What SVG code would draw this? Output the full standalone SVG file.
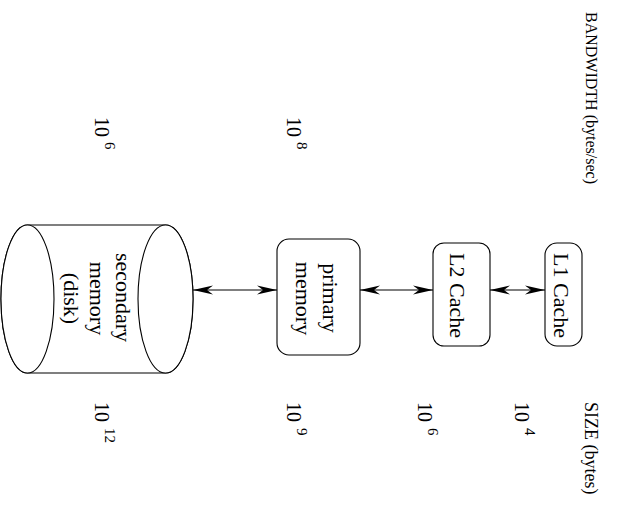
<svg xmlns="http://www.w3.org/2000/svg" width="644" height="517" viewBox="0 0 644 517">
<style>
text { font-family: "Liberation Serif", "Times New Roman", serif; fill: #000; }
.lbl { font-size: 22px; text-anchor: middle; }
.hdr { font-size: 16px; }
.hdr2 { font-size: 18px; }
.num { font-size: 20px; }
.sup { font-size: 15px; }
.shape { fill: #fff; stroke: #000; stroke-width: 1.1; }
.conn { stroke: #000; stroke-width: 1.1; fill: none; marker-start: url(#ah); marker-end: url(#ah); }
</style>
<defs>
<marker id="ah" viewBox="0 0 20 10" refX="20" refY="5" markerWidth="20" markerHeight="10" markerUnits="userSpaceOnUse" orient="auto-start-reverse">
<path d="M20,5 L0,0.5 L6,5 L0,9.5 Z" fill="#000"/>
</marker>
</defs>
<rect width="644" height="517" fill="#fff"/>

<g id="connectors">
<line class="conn" x1="193" y1="290" x2="277" y2="290"/>
<line class="conn" x1="360" y1="290" x2="433" y2="290"/>
<line class="conn" x1="490" y1="290" x2="545" y2="290"/>
</g>

<g id="node-disk">
<path class="shape" d="M27.5,225 L165.5,225 A27.5,74 0 0 1 165.5,373 L27.5,373 A26.5,74 0 0 1 27.5,225 Z"/>
<ellipse class="shape" cx="27.5" cy="299" rx="26.5" ry="74" fill="none"/>
<ellipse class="shape" cx="165.5" cy="299" rx="27.5" ry="74"/>
<text class="lbl" transform="translate(116,297.5) rotate(90)">secondary</text>
<text class="lbl" transform="translate(90,298.5) rotate(90)">memory</text>
<text class="lbl" transform="translate(64,298.5) rotate(90)">(disk)</text>
</g>

<g id="node-primary">
<rect class="shape" x="277" y="239" width="83" height="116" rx="12" ry="12"/>
<text class="lbl" transform="translate(323,298) rotate(90)">primary</text>
<text class="lbl" transform="translate(296,298.5) rotate(90)">memory</text>
</g>

<g id="node-l2">
<rect class="shape" x="433" y="243" width="57" height="103" rx="11" ry="11"/>
<text class="lbl" transform="translate(450,295.5) rotate(90)">L2 Cache</text>
</g>

<g id="node-l1">
<rect class="shape" x="545" y="243" width="37" height="103" rx="12" ry="12"/>
<text class="lbl" transform="translate(554,295.5) rotate(90)">L1 Cache</text>
</g>

<g id="bandwidth-labels">
<text class="hdr" transform="translate(586,12) rotate(90)">BANDWIDTH (bytes/sec)</text>
<text class="num" transform="translate(95,117) rotate(90)">10</text>
<text class="sup" transform="translate(105,142) rotate(90)">6</text>
<text class="num" transform="translate(287,117) rotate(90)">10</text>
<text class="sup" transform="translate(297,142) rotate(90)">8</text>
</g>

<g id="size-labels">
<text class="hdr2" transform="translate(585,402) rotate(90)">SIZE (bytes)</text>
<text class="num" transform="translate(95,402) rotate(90)">10</text>
<text class="sup" transform="translate(105,428) rotate(90)">12</text>
<text class="num" transform="translate(287,402) rotate(90)">10</text>
<text class="sup" transform="translate(297,428) rotate(90)">9</text>
<text class="num" transform="translate(418,402) rotate(90)">10</text>
<text class="sup" transform="translate(428,428) rotate(90)">6</text>
<text class="num" transform="translate(515,402) rotate(90)">10</text>
<text class="sup" transform="translate(525,428) rotate(90)">4</text>
</g>
</svg>
